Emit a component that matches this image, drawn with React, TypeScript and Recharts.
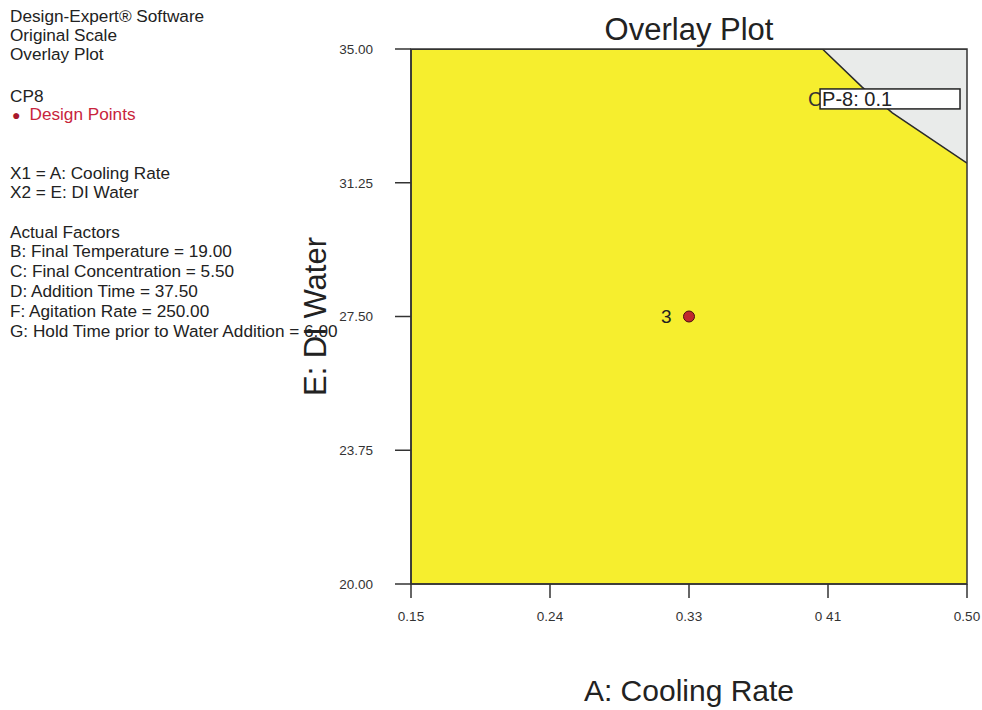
import {
  ComposedChart,
  Area,
  Scatter,
  XAxis,
  YAxis,
  ReferenceArea,
  LabelList,
  Label,
} from "recharts";

// overlay boundary (CP-8 contour)
const xValues = [0.15, 0.409, 0.434, 0.453, 0.5];
const boundaryValues = [35, 35, 33.93, 33.21, 31.8];

const xTicks = [0.15, 0.2375, 0.325, 0.4125, 0.5];
const xTickLabels = ["0.15", "0.24", "0.33", "0 41", "0.50"];
const yTicks = [20, 23.75, 27.5, 31.25, 35];

const designX = [0.325];
const designY = [27.5];
const designLabels = ["3"];

const infoLines = [
  { text: "Design-Expert® Software", y: 16 },
  { text: "Original Scale", y: 35 },
  { text: "Overlay Plot", y: 54 },
  { text: "CP8", y: 96 },
  { text: "X1 = A: Cooling Rate", y: 173 },
  { text: "X2 = E: DI Water", y: 192 },
  { text: "Actual Factors", y: 232 },
  { text: "B: Final Temperature = 19.00", y: 251 },
  { text: "C: Final Concentration = 5.50", y: 271 },
  { text: "D: Addition Time = 37.50", y: 291 },
  { text: "F: Agitation Rate = 250.00", y: 311 },
  { text: "G: Hold Time prior to Water Addition = 6.00", y: 331 },
];

const regionData = xValues.map((x, i) => ({
  x,
  yellow: [20, boundaryValues[i]],
  grey: [boundaryValues[i], 35],
}));

const pointData = designX.map((x, i) => ({
  x,
  y: designY[i],
  label: designLabels[i],
}));

const font = "Arial, 'Liberation Sans', sans-serif";

const CpLabel = (props: any) => {
  const vb = props.viewBox;
  if (!vb) return null;
  const cy = vb.y + vb.height / 2 + 7;
  return (
    <g>
      <text x={vb.x - 12} y={cy} fontSize={20} fill="#333" fontFamily={font}>
        C
      </text>
      <rect
        x={vb.x}
        y={vb.y}
        width={vb.width}
        height={vb.height}
        fill="#fff"
        stroke="#222"
        strokeWidth={1.5}
      />
      <text x={vb.x + 2} y={cy} fontSize={20} fill="#222" fontFamily={font}>
        P-8: 0.1
      </text>
    </g>
  );
};

export default function App() {
  return (
    <div
      style={{
        position: "absolute",
        left: 0,
        top: 0,
        width: 982,
        height: 710,
        background: "#fff",
        fontFamily: font,
      }}
    >
      {infoLines.map((l) => (
        <div
          key={l.text}
          style={{
            position: "absolute",
            left: 10,
            top: l.y - 10,
            fontSize: 17.2,
            lineHeight: "20px",
            color: "#222",
            whiteSpace: "nowrap",
          }}
        >
          {l.text}
        </div>
      ))}
      <div
        style={{
          position: "absolute",
          left: 12,
          top: 104,
          fontSize: 17.2,
          lineHeight: "20px",
          color: "#c8243c",
          whiteSpace: "nowrap",
        }}
      >
        <span style={{ fontSize: 14, marginRight: 9, color: "#a8182c" }}>●</span>
        Design Points
      </div>
      <div
        style={{
          position: "absolute",
          left: 411,
          width: 556,
          top: 11,
          textAlign: "center",
          fontSize: 31,
          lineHeight: "38px",
          color: "#222",
        }}
      >
        Overlay Plot
      </div>
      <div style={{ position: "absolute", left: 0, top: 0 }}>
        <ComposedChart
          width={982}
          height={710}
          data={regionData}
          margin={{ top: 49, right: 15, bottom: 86, left: 351 }}
        >
          <XAxis
            dataKey="x"
            type="number"
            domain={[0.15, 0.5]}
            ticks={xTicks}
            tickFormatter={(v: number) => xTickLabels[xTicks.indexOf(v)] ?? ""}
            height={40}
            tickSize={14}
            tickMargin={13}
            stroke="#333"
            strokeWidth={1.5}
            tick={{ fontSize: 13.5, fill: "#333", fontFamily: font }}
            allowDataOverflow
          >
            <Label
              value="A: Cooling Rate"
              position="bottom"
              offset={56}
              style={{ fontSize: 30, fill: "#222", fontFamily: font }}
            />
          </XAxis>
          <YAxis
            type="number"
            domain={[20, 35]}
            ticks={yTicks}
            tickFormatter={(v: number) => v.toFixed(2)}
            width={60}
            tickSize={16}
            tickMargin={22}
            stroke="#333"
            strokeWidth={1.5}
            tick={{ fontSize: 13.5, fill: "#333", fontFamily: font }}
            allowDataOverflow
          >
            <Label
              value="E: DI Water"
              angle={-90}
              position="insideLeft"
              offset={-36}
              style={{
                fontSize: 31,
                fill: "#222",
                fontFamily: font,
                textAnchor: "middle",
              }}
            />
          </YAxis>
          <Area
            dataKey="yellow"
            type="linear"
            fill="#f6ee2e"
            fillOpacity={1}
            stroke="none"
            isAnimationActive={false}
          />
          <Area
            dataKey="grey"
            type="linear"
            fill="#e9ebea"
            fillOpacity={1}
            stroke="#2a2a2a"
            strokeWidth={1.5}
            isAnimationActive={false}
          />
          <ReferenceArea
            x1={0.15}
            x2={0.5}
            y1={20}
            y2={35}
            fill="none"
            stroke="#333"
            strokeWidth={1.5}
          />
          <ReferenceArea
            x1={0.4075}
            x2={0.4956}
            y1={33.32}
            y2={33.88}
            fill="none"
            stroke="none"
            label={<CpLabel />}
          />
          <Scatter
            data={pointData}
            dataKey="y"
            fill="#c0282d"
            stroke="#4a1010"
            strokeWidth={1}
            shape={(p: any) => (
              <circle cx={p.cx} cy={p.cy} r={5.5} fill="#c0282d" stroke="#4a1010" strokeWidth={1} />
            )}
            isAnimationActive={false}
          >
            <LabelList
              dataKey="label"
              position="left"
              offset={13}
              style={{ fontSize: 19, fill: "#222", fontFamily: font }}
            />
          </Scatter>
        </ComposedChart>
      </div>
    </div>
  );
}
